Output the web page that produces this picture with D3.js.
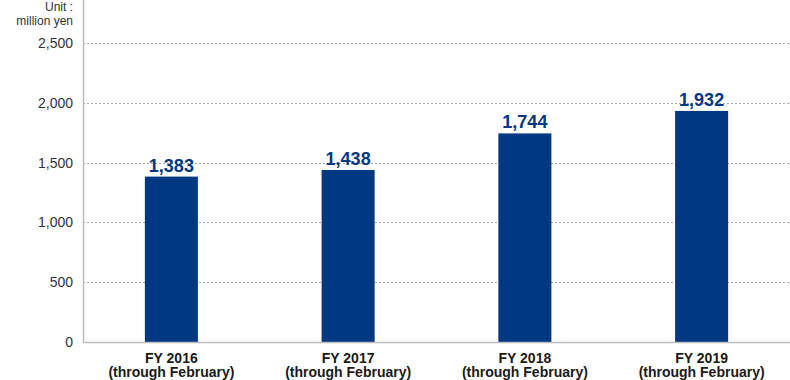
<!DOCTYPE html>
<html><head><meta charset="utf-8">
<script src="https://cdn.jsdelivr.net/npm/d3@7"></script>
<style>body{margin:0;background:#fff;}svg{display:block;font-family:Arial,"Liberation Sans",sans-serif;}</style>
</head><body>
<svg id="c" width="790" height="380"></svg>
<script>
const categories = ["FY 2016", "FY 2017", "FY 2018", "FY 2019"];
const subLabels = ["(through February)", "(through February)", "(through February)", "(through February)"];
const values = [1383, 1438, 1744, 1932];
const yTicks = [0, 500, 1000, 1500, 2000, 2500];
const unitLines = ["Unit :", "million yen"];

const svg = d3.select("#c");
const mLeft = 83, mRight = 790, mTop = 43, mBottom = 342;
const x = d3.scaleBand().domain(categories).range([mLeft, mRight]).padding(0);
const y = d3.scaleLinear().domain([0, 2500]).range([mBottom, mTop]);
const barW = x.bandwidth() * 0.3;

// grid
svg.append("g").selectAll("line").data(yTicks.filter(d => d > 0)).join("line")
  .attr("x1", mLeft).attr("x2", mRight)
  .attr("y1", d => Math.round(y(d)) + 0.5).attr("y2", d => Math.round(y(d)) + 0.5)
  .attr("stroke", "#aaa").attr("stroke-width", 1).attr("stroke-dasharray", "2,2");

// bars
svg.append("g").selectAll("rect").data(values).join("rect")
  .attr("x", (d, i) => x(categories[i]) + x.bandwidth() / 2 - barW / 2)
  .attr("width", barW)
  .attr("y", d => y(d)).attr("height", d => mBottom - y(d))
  .attr("fill", "#003882");

// value labels
svg.append("g").selectAll("text").data(values).join("text")
  .attr("x", (d, i) => x(categories[i]) + x.bandwidth() / 2)
  .attr("y", d => y(d) - 5)
  .attr("text-anchor", "middle").attr("font-weight", "bold").attr("font-size", 18)
  .attr("fill", "#003882")
  .text(d => d3.format(",")(d));

// axes lines
svg.append("line").attr("x1", mLeft + 0.5).attr("x2", mLeft + 0.5).attr("y1", 0).attr("y2", mBottom + 1)
  .attr("stroke", "#bbb").attr("stroke-width", 1.5);
svg.append("line").attr("x1", mLeft).attr("x2", mRight).attr("y1", mBottom + 0.5).attr("y2", mBottom + 0.5)
  .attr("stroke", "#bbb").attr("stroke-width", 1.5);

// y tick labels
svg.append("g").selectAll("text").data(yTicks).join("text")
  .attr("x", 73).attr("y", d => y(d) + 5)
  .attr("text-anchor", "end").attr("font-size", 14).attr("fill", "#333")
  .text(d => d3.format(",")(d));

// unit
svg.append("g").selectAll("text").data(unitLines).join("text")
  .attr("x", 73).attr("y", (d, i) => 11 + i * 14)
  .attr("text-anchor", "end").attr("font-size", 12).attr("fill", "#333")
  .text(d => d);

// category labels
const cat = svg.append("g").selectAll("text").data(categories).join("text")
  .attr("x", d => x(d) + x.bandwidth() / 2)
  .attr("text-anchor", "middle").attr("font-weight", "bold").attr("font-size", 14).attr("fill", "#1a1a1a");
cat.append("tspan").attr("x", d => x(d) + x.bandwidth() / 2).attr("y", 362.5).text(d => d);
cat.append("tspan").attr("x", d => x(d) + x.bandwidth() / 2).attr("y", 377).text((d, i) => subLabels[i]);
</script>
</body></html>
